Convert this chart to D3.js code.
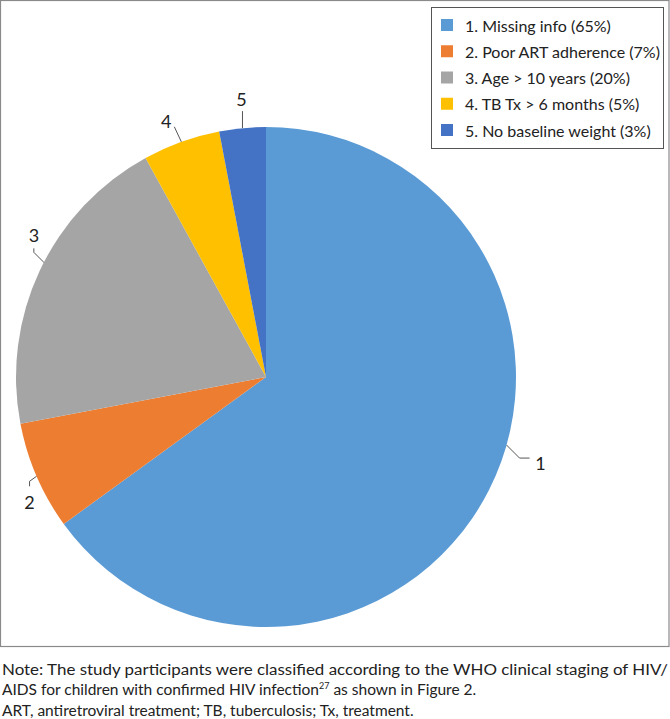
<!DOCTYPE html>
<html>
<head>
<meta charset="utf-8">
<script src="https://cdn.jsdelivr.net/npm/d3@7"></script>
<style>
  html, body { margin: 0; padding: 0; background: #fff; }
  svg { display: block; }
  text { font-family: Lato, "Open Sans", sans-serif; fill: #222; }
</style>
</head>
<body>
<svg id="chart" width="670" height="719"></svg>
<script>
// ---- data ----
const categories = ["1. Missing info", "2. Poor ART adherence", "3. Age > 10 years", "4. TB Tx > 6 months", "5. No baseline weight"];
const sliceLabels = ["1", "2", "3", "4", "5"];
const values = [65, 7, 20, 5, 3];
const colors = ["#5B9BD5", "#ED7D31", "#A5A5A5", "#FFC000", "#4472C4"];
const noteLines = [
  "Note: The study participants were classified according to the WHO clinical staging of HIV/",
  "AIDS for children with confirmed HIV infection",
  "ART, antiretroviral treatment; TB, tuberculosis; Tx, treatment."
];

// ---- layout ----
const W = 670, H = 719;
const cx = 266, cy = 377, R = 250;
// leader layout: anchor angle (deg, null = slice middle), elbow/end offsets, text offset from end
const leaderLayout = [
  { angle: 105.8, pts: [[13, 13], [23, 13]], txt: [11, 5], anchor: "middle" },
  { angle: null,  pts: [[-7, 5], [-7, 10]], txt: [0, 16], anchor: "middle" },
  { angle: 297.3, pts: [[-10, -10], [-10, -14]], txt: [0, -13], anchor: "middle" },
  { angle: null,  pts: [[-7, -15]], txt: [-8, -6], anchor: "middle" },
  { angle: null,  pts: [[0, -17]], txt: [-1, -12], anchor: "middle" }
];

const svg = d3.select("#chart");

// outer frame
svg.append("rect")
  .attr("x", 0.5).attr("y", 0.5)
  .attr("width", W - 1.5).attr("height", 646)
  .attr("fill", "none").attr("stroke", "#8a8a8a").attr("stroke-width", 1.2);

const pie = d3.pie().sort(null).value(d => d)(values);
const arc = d3.arc().innerRadius(0).outerRadius(R);

const g = svg.append("g").attr("transform", `translate(${cx},${cy})`);
g.selectAll("path.slice").data(pie).join("path")
  .attr("class", "slice")
  .attr("d", arc)
  .attr("fill", (d, i) => colors[i]);

// leader lines + labels
pie.forEach((d, i) => {
  const L = leaderLayout[i];
  const angDeg = L.angle !== null ? L.angle : ((d.startAngle + d.endAngle) / 2) * 180 / Math.PI;
  const a = angDeg * Math.PI / 180;
  const sx = R * Math.sin(a), sy = -R * Math.cos(a);
  const pts = [[sx, sy]].concat(L.pts.map(p => [sx + p[0], sy + p[1]]));
  g.append("path")
    .attr("d", d3.line()(pts))
    .attr("fill", "none").attr("stroke", "#555").attr("stroke-width", 1);
  const end = pts[pts.length - 1];
  g.append("text")
    .attr("x", end[0] + L.txt[0]).attr("y", end[1] + L.txt[1])
    .attr("text-anchor", L.anchor)
    .attr("dominant-baseline", "central")
    .attr("font-size", 18)
    .text(sliceLabels[i]);
});

// legend
const lg = svg.append("g");
lg.append("rect")
  .attr("x", 431.5).attr("y", 7.5).attr("width", 232).attr("height", 141)
  .attr("fill", "#fff").attr("stroke", "#555").attr("stroke-width", 1);
const rowY = d3.scalePoint().domain(d3.range(categories.length)).range([25, 130]);
categories.forEach((c, i) => {
  lg.append("rect")
    .attr("x", 441).attr("y", rowY(i) - 6).attr("width", 12).attr("height", 12)
    .attr("fill", colors[i]);
  lg.append("text")
    .attr("x", 465).attr("y", rowY(i))
    .attr("dominant-baseline", "central")
    .attr("font-size", 16)
    .text(`${c} (${values[i]}%)`);
});

// notes
const nt = svg.append("g").attr("font-size", 15.5);
nt.append("text").attr("x", 2).attr("y", 675)
  .attr("textLength", 666).attr("lengthAdjust", "spacingAndGlyphs")
  .text(noteLines[0]);
const t2 = nt.append("text").attr("x", 2).attr("y", 695);
t2.append("tspan").text(noteLines[1]);
t2.append("tspan").attr("font-size", 9).attr("dy", -6).text("27");
t2.append("tspan").attr("dy", 6).text(" as shown in Figure 2.");
nt.append("text").attr("x", 2).attr("y", 716).text(noteLines[2]);
</script>
</body>
</html>
